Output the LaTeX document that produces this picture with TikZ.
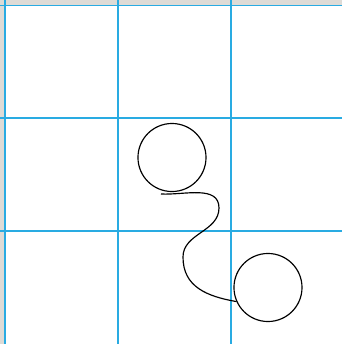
\documentclass[tikz,border=0pt]{standalone}
\usepackage{tikz}
\definecolor{gridblue}{HTML}{29ABE2}
\definecolor{paper}{HTML}{DEDBD6}
\begin{document}
\begin{tikzpicture}[x=0.01cm,y=0.01cm]
    \tikzset{
        ring/.style={draw, circle, line width=0.33pt, minimum size=0.68cm, inner sep=0pt},
        gridline/.style={draw=gridblue, line width=0.55pt},
        path/.style={line width=0.33pt}
    }
    \useasboundingbox (0,0) rectangle (342,344);
    \fill[paper] (0,0) rectangle (342,344);
    \fill[white] (4.5,0) rectangle (342,339);

    \foreach \x in {5,118,231} {
        \draw[gridline] (\x,0) -- (\x,344);
    }
    \foreach \y in {338.5,226,113} {
        \draw[gridline] (0,\y) -- (342,\y);
    }

    \draw node[ring] (c1) at (172,186.5) {};
    \draw node[ring] (c2) at (268,56.5) {};
    \coordinate (s) at (161,150);
    \coordinate (r) at (219,136);
    \coordinate (l) at (183,87);
    % \draw (c1) -- (c2);
    \draw[path] (s) to[out=-3,in=90] (r) to[out=-90,in=90] (l)
        to[out=-90,in=170,looseness=1.1] (c2.204);
\end{tikzpicture}
\end{document}
